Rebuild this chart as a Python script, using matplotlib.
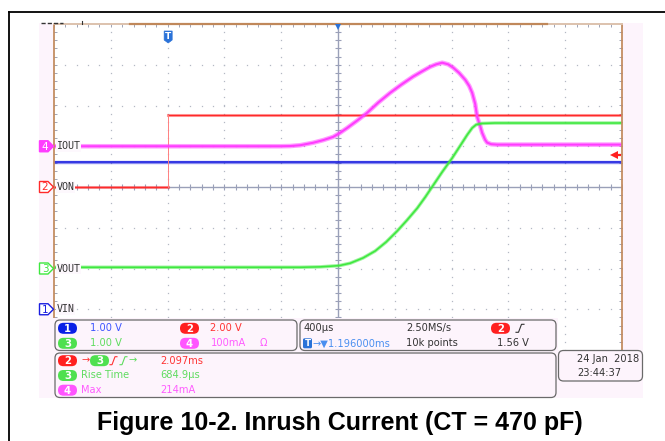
import numpy as np
import matplotlib
matplotlib.use('Agg')
import matplotlib.pyplot as plt
from matplotlib.patches import FancyBboxPatch, Polygon, Rectangle

# scope settings
time_per_div = 0.4          # ms / div
delay = 1.196               # ms, trigger -> screen centre
t_left = delay - 5 * time_per_div
t_right = delay + 5 * time_per_div

# channel setup: name, scale (unit/div), ground offset (div), colour
ch_names = ['VIN', 'VON', 'VOUT', 'IOUT']
ch_scale = [1.0, 2.0, 1.0, 100.0]
ch_offset = [-3.0, 0.0, -2.0, 1.0]
ch_color = ['#1a1ee0', '#ff2a2a', '#3ee83e', '#ff3cff']
ch_text_color = ['#3d55ff', '#ff3333', '#5fdc5f', '#ff5cff']

# traces (time in ms)
vin_t = [t_left, t_right]
vin_v = [3.62, 3.62]

von_t = [t_left, 0.0, 0.0, t_right]
von_v = [0.0, 0.0, 3.53, 3.53]

vout_t = [t_left, 0.93, 1.07, 1.204, 1.282, 1.373, 1.458, 1.535, 1.613, 1.683, 1.754, 1.810,
          1.866, 1.930, 2.0, 2.056, 2.106, 2.141, 2.169, 2.211, 2.30, t_right]
vout_v = [0.03, 0.03, 0.04, 0.07, 0.13, 0.26, 0.43, 0.65, 0.92, 1.19, 1.48, 1.75,
          2.04, 2.37, 2.71, 3.01, 3.28, 3.45, 3.53, 3.56, 3.57, 3.57]

iout_t = [t_left, 0.789, 0.859, 0.930, 1.021, 1.092, 1.162, 1.211, 1.261, 1.331, 1.401,
          1.479, 1.563, 1.641, 1.725, 1.789, 1.845, 1.887, 1.930, 1.972, 2.007, 2.049,
          2.092, 2.120, 2.141, 2.162, 2.176, 2.197, 2.211, 2.232, 2.246, 2.275, 2.317, t_right]
iout_ma = [0, 0, 0.5, 2.5, 8.6, 15, 23, 33, 45, 63, 82,
           107, 131, 151, 171, 184, 195, 201, 205, 201, 193, 180,
           163, 148, 131, 104, 72, 50, 33, 16, 9, 5, 4, 4]

trig_level = 1.56           # V on channel 2

meas_names = ['Rise Time', 'Max']
meas_vals = ['2.097ms', '684.9µs', '214mA']

W, H = 665, 441
fig = plt.figure(figsize=(W / 100, H / 100), dpi=100)

bg = fig.add_axes([0, 0, 1, 1], zorder=0)
bg.set_xlim(0, W)
bg.set_ylim(H, 0)
bg.axis('off')

# graticule: 10 x 8 divisions
gx0, gx1, gy0, gy1 = 54, 622, 24, 350
ax = fig.add_axes([gx0 / W, (H - gy1) / H, (gx1 - gx0) / W, (gy1 - gy0) / H], zorder=1)
ax.set_xlim(t_left, t_right)
ax.set_ylim(-4, 4)
ax.set_xticks([])
ax.set_yticks([])
ax.set_facecolor('white')
ax.spines['bottom'].set_visible(False)
ax.spines['top'].set_color('#ddc2ad')
ax.spines['top'].set_linewidth(1.4)
for s in ['left', 'right']:
    ax.spines[s].set_color('#c48d62')
    ax.spines[s].set_linewidth(1.3)

top = fig.add_axes([0, 0, 1, 1], zorder=2)
top.set_xlim(0, W)
top.set_ylim(H, 0)
top.axis('off')
top.patch.set_alpha(0)

# background: outer frame and pink screen
bg.plot([9, 9], [12, H], color='black', lw=1.3)
bg.plot([9, W], [12, 12], color='black', lw=1.3)
bg.add_patch(Rectangle((39, 23), 604, 375, facecolor='#fdf4fc', edgecolor='none'))

# dotted grid
major_x = t_left + time_per_div * np.arange(1, 10)
minor_x = t_left + time_per_div / 5 * np.arange(0, 51)
major_y = np.arange(-3, 4)
minor_y = np.arange(-4, 4.01, 0.2)
dot = '#b4b8c4'
for xm in major_x:
    if abs(xm - delay) > 1e-6:
        ax.plot(np.full(minor_y.size, xm), minor_y, ls='none', marker='s', ms=0.9, color=dot, mew=0)
for ym in major_y:
    if ym != 0:
        ax.plot(minor_x, np.full(minor_x.size, ym), ls='none', marker='s', ms=0.9, color=dot, mew=0)

# centre axes with ticks
axc = '#9aa0b8'
ax.axhline(0, color=axc, lw=1.0)
ax.axvline(delay, color=axc, lw=1.0)
ax.plot(minor_x, np.zeros(minor_x.size), ls='none', marker='|', ms=4, mew=0.8, color=axc)
ax.plot(np.full(minor_y.size, delay), minor_y, ls='none', marker='_', ms=4, mew=0.8, color=axc)
# border ticks
ax.plot(np.full(minor_y.size, t_left), minor_y, ls='none', marker='_', ms=5, mew=0.7, color='#a0a4b4')
ax.plot(np.full(minor_y.size, t_right), minor_y, ls='none', marker='_', ms=5, mew=0.7, color='#a0a4b4')
ax.plot(minor_x, np.full(minor_x.size, 4), ls='none', marker='|', ms=5, mew=0.7, color='#a0a4b4')


def to_div(vals, ch):
    return np.array(vals) / ch_scale[ch] + ch_offset[ch]


def trace(t, y, ch, wide):
    ax.plot(t, y, color=ch_color[ch], lw=wide, alpha=0.5, solid_capstyle='butt', solid_joinstyle='round')
    ax.plot(t, y, color=ch_color[ch], lw=wide * 0.45, solid_capstyle='butt', solid_joinstyle='round')


trace(vin_t, to_div(vin_v, 0), 0, 2.4)
# VON: draw levels thick, the edge thin
von_div = to_div(von_v, 1)
for a, b in [(0, 2), (2, 4)]:
    ax.plot(von_t[a:b], von_div[a:b], color=ch_color[1], lw=2.2, alpha=0.45)
    ax.plot(von_t[a:b], von_div[a:b], color=ch_color[1], lw=0.9)
ax.plot(von_t[1:3], von_div[1:3], color='#ff8080', lw=0.7)
trace(iout_t, to_div(iout_ma, 3), 3, 3.3)
trace(vout_t, to_div(vout_v, 2), 2, 2.5)


def to_px(t, ydiv):
    p = ax.transData.transform((t, ydiv))
    return top.transData.inverted().transform(p)


# top decorations
top.plot([130, 547], [24, 24], color='#c0885a', lw=1.6)
top.plot([41, 63], [23, 23], color='#333333', lw=1.0, ls=(0, (3, 1.5)))
top.plot([82, 82], [21, 24], color='#333333', lw=0.8)
cx, cy = to_px(delay, 4)
top.plot(cx, cy + 3, marker='v', ms=5, color='#2a72d8', mew=0)
tx, _ = to_px(0.0, 4)
top.add_patch(Polygon([(tx - 4, 31), (tx + 4, 31), (tx + 4, 40), (tx, 43), (tx - 4, 40)],
                      closed=True, facecolor='#2a72d8', edgecolor='#2a72d8', lw=0.5))
top.text(tx, 36.5, 'T', color='white', fontsize=6.5, fontweight='bold', ha='center', va='center')

# trigger level arrow on the right
rx, ry = to_px(t_right, trig_level / ch_scale[1] + ch_offset[1])
top.plot([rx - 7, rx - 1], [ry, ry], color='#ff2020', lw=1.6, solid_capstyle='butt')
top.plot(rx - 8, ry, marker='<', ms=5.5, color='#ff2020', mew=0)

# channel ground markers and labels
for ch in range(4):
    _, y = to_px(t_left, ch_offset[ch])
    filled = ch == 3
    top.add_patch(Polygon([(39.5, y - 5.5), (48, y - 5.5), (53.5, y), (48, y + 5.5), (39.5, y + 5.5)],
                          closed=True, facecolor=ch_color[ch] if filled else 'white',
                          edgecolor=ch_color[ch], lw=1.0))
    top.text(45, y + 0.3, str(ch + 1), color='white' if filled else ch_color[ch],
             fontsize=7.5, ha='center', va='center')
    top.text(56.5, y, ch_names[ch], color='#333333', fontsize=7.2, family='DejaVu Sans Mono',
             ha='left', va='center',
             bbox=dict(facecolor='#fdf8fd', edgecolor='none', pad=0.6))


# info panels
def panel(x0, y0, x1, y1):
    top.add_patch(FancyBboxPatch((x0, y0), x1 - x0, y1 - y0, boxstyle='round,pad=0,rounding_size=5',
                                 facecolor='#fdf4fc', edgecolor='#6a6a6a', lw=0.9))


def pill(x, y, n, color):
    top.add_patch(FancyBboxPatch((x, y - 5.5), 19, 11, boxstyle='round,pad=0,rounding_size=5.5',
                                 facecolor=color, edgecolor='none'))
    top.text(x + 9.5, y + 0.3, str(n), color='white', fontsize=7.3, fontweight='bold',
             ha='center', va='center')


# pink strip under panels covering graticule bottom
top.add_patch(Rectangle((39, 318), 519, 80, facecolor='#fdf4fc', edgecolor='none'))
panel(55, 320, 297, 350.5)
panel(300, 320, 556, 350.5)
panel(55, 353, 556, 397.5)
panel(558.5, 350.5, 642.5, 381)

fs = 7.1
r1, r2 = 328.3, 343.3
pill(58, r1, 1, '#0a20e6')
top.text(90.5, r1, '%.2f V' % ch_scale[0], color=ch_text_color[0], fontsize=fs, va='center')
pill(180, r1, 2, '#ff2020')
top.text(210.5, r1, '%.2f V' % ch_scale[1], color=ch_text_color[1], fontsize=fs, va='center')
pill(58, r2, 3, '#4fe04f')
top.text(90.5, r2, '%.2f V' % ch_scale[2], color=ch_text_color[2], fontsize=fs, va='center')
pill(180, r2, 4, '#ff55ff')
top.text(210.5, r2, '%dmA' % ch_scale[3], color=ch_text_color[3], fontsize=fs, va='center')
top.text(260, r2, 'Ω', color=ch_text_color[3], fontsize=fs, va='center')

top.text(303, r1, '%dµs' % round(time_per_div * 1000), color='#333333', fontsize=fs, va='center')
top.text(406, r1, '2.50MS/s', color='#333333', fontsize=fs, va='center')
pill(491, r1, 2, '#ff2020')
top.plot([516, 518.5, 521.5, 524], [r1 + 4, r1 + 4, r1 - 4, r1 - 4], color='#333333', lw=0.8)
top.add_patch(FancyBboxPatch((303, r2 - 5), 9, 10, boxstyle='round,pad=0,rounding_size=1.5',
                             facecolor='#2a72d8', edgecolor='none'))
top.text(307.5, r2 + 0.3, 'T', color='white', fontsize=6.3, fontweight='bold', ha='center', va='center')
top.text(312.5, r2, '→▼%.6fms' % delay, color='#4a8ff0', fontsize=fs, va='center')
top.text(406, r2, '10k points', color='#333333', fontsize=fs, va='center')
top.text(497, r2, '%.2f V' % trig_level, color='#333333', fontsize=fs, va='center')

m1, m2, m3 = 360.7, 375.5, 390.2
pill(58, m1, 2, '#ff2020')
top.text(81.5, m1, '→', color='#ff3333', fontsize=fs, va='center')
pill(90, m1, 3, '#4fe04f')
top.plot([110, 112, 115, 117], [m1 + 4, m1 + 4, m1 - 4, m1 - 4], color='#ff3333', lw=0.8)
top.plot([120, 122, 125, 127], [m1 + 4, m1 + 4, m1 - 4, m1 - 4], color='#5fdc5f', lw=0.8)
top.text(128.5, m1, '→', color='#5fdc5f', fontsize=fs, va='center')
top.text(160.5, m1, meas_vals[0], color=ch_text_color[1], fontsize=fs, va='center')
pill(58, m2, 3, '#4fe04f')
top.text(81, m2, meas_names[0], color=ch_text_color[2], fontsize=fs, va='center')
top.text(160.5, m2, meas_vals[1], color=ch_text_color[2], fontsize=fs, va='center')
pill(58, m3, 4, '#ff55ff')
top.text(81, m3, meas_names[1], color=ch_text_color[3], fontsize=fs, va='center')
top.text(160.5, m3, meas_vals[2], color=ch_text_color[3], fontsize=fs, va='center')

top.text(577, 359.3, '24 Jan  2018', color='#333333', fontsize=fs, va='center')
top.text(577, 372.7, '23:44:37', color='#333333', fontsize=fs, va='center')

# caption
top.text(340, 430, 'Figure 10-2. Inrush Current (CT = 470 pF)', family='Liberation Sans',
         fontweight='bold', fontsize=18, ha='center', va='baseline', color='black')

fig.savefig('out.png', dpi=100)
